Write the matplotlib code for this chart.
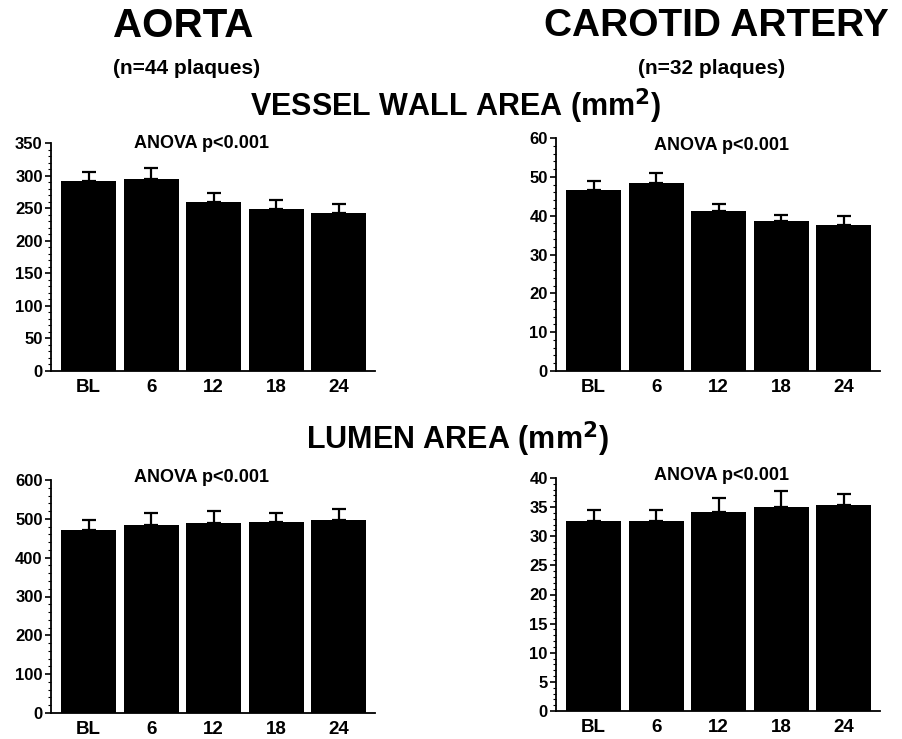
import matplotlib
matplotlib.use("Agg")
import matplotlib.pyplot as plt
from matplotlib.ticker import MultipleLocator

plt.rcParams["font.family"] = ["Liberation Sans", "DejaVu Sans"]
plt.rcParams["font.weight"] = "bold"

timepoints = ["BL", "6", "12", "18", "24"]

# vessel wall area (mm2), mean and upper error
aorta_vwa = [291, 294, 260, 249, 242]
aorta_vwa_err = [14, 17, 13, 14, 14]
carotid_vwa = [46.5, 48.3, 41.3, 38.6, 37.5]
carotid_vwa_err = [2.3, 2.6, 1.6, 1.7, 2.3]

# lumen area (mm2)
aorta_lumen = [472, 485, 489, 492, 496]
aorta_lumen_err = [25, 29, 32, 24, 29]
carotid_lumen = [32.7, 32.7, 34.2, 35.0, 35.3]
carotid_lumen_err = [1.8, 1.8, 2.3, 2.7, 1.9]

W, H = 902, 739
fig = plt.figure(figsize=(W / 100, H / 100), dpi=100)


def px_axes(x0, x1, ytop, ybot):
    return fig.add_axes([x0 / W, (H - ybot) / H, (x1 - x0) / W, (ybot - ytop) / H])


def bar_panel(ax, values, errs, ymax, major, minor):
    x = range(len(timepoints))
    ax.bar(x, values, width=0.88, color="black", edgecolor="none", zorder=2)
    ax.errorbar(x, values, yerr=[[0] * len(errs), errs], fmt="none",
                ecolor="black", elinewidth=1.6, capsize=5, capthick=1.6, zorder=3)
    ax.set_xlim(-0.6, 4.58)
    ax.set_ylim(0, ymax)
    ax.set_xticks(list(x))
    ax.set_xticklabels(timepoints, fontsize=13.5, fontweight="bold")
    ax.tick_params(axis="x", length=0, pad=6)
    ax.yaxis.set_major_locator(MultipleLocator(major))
    ax.yaxis.set_minor_locator(MultipleLocator(minor))
    ax.tick_params(axis="y", which="major", length=4, width=1.2, labelsize=12, pad=2)
    ax.tick_params(axis="y", which="minor", length=2, width=0.8)
    for lbl in ax.get_yticklabels():
        lbl.set_fontweight("bold")
    ax.spines["top"].set_visible(False)
    ax.spines["right"].set_visible(False)
    ax.spines["left"].set_linewidth(1.3)
    ax.spines["bottom"].set_linewidth(1.3)


ax1 = px_axes(51, 375, 143, 371)
bar_panel(ax1, aorta_vwa, aorta_vwa_err, 350, 50, 10)
ax2 = px_axes(556, 880, 138, 371)
bar_panel(ax2, carotid_vwa, carotid_vwa_err, 60, 10, 2)
ax3 = px_axes(51, 375, 480, 713)
bar_panel(ax3, aorta_lumen, aorta_lumen_err, 600, 100, 20)
ax4 = px_axes(556, 880, 478, 711)
bar_panel(ax4, carotid_lumen, carotid_lumen_err, 40, 5, 1)


def ftext(x, y, s, size, **kw):
    fig.text(x / W, 1 - y / H, s, fontsize=size, fontweight="bold",
             ha=kw.pop("ha", "center"), va=kw.pop("va", "center"), **kw)


ftext(113, 26, "AORTA", 29, ha="left")
ftext(113, 68, "(n=44 plaques)", 15, ha="left")
ftext(716, 26, "CAROTID ARTERY", 28)
ftext(712, 68, "(n=32 plaques)", 15)
ftext(456, 106, r"VESSEL WALL AREA (mm$^{\mathbf{2}}$)", 22)
ftext(457, 439, r"LUMEN AREA (mm$^{\mathbf{2}}$)", 22)

for x, y in [(201, 144), (721, 146), (201, 477), (721, 476)]:
    ftext(x, y, "ANOVA p<0.001", 13)

fig.savefig("out.png", dpi=100)
